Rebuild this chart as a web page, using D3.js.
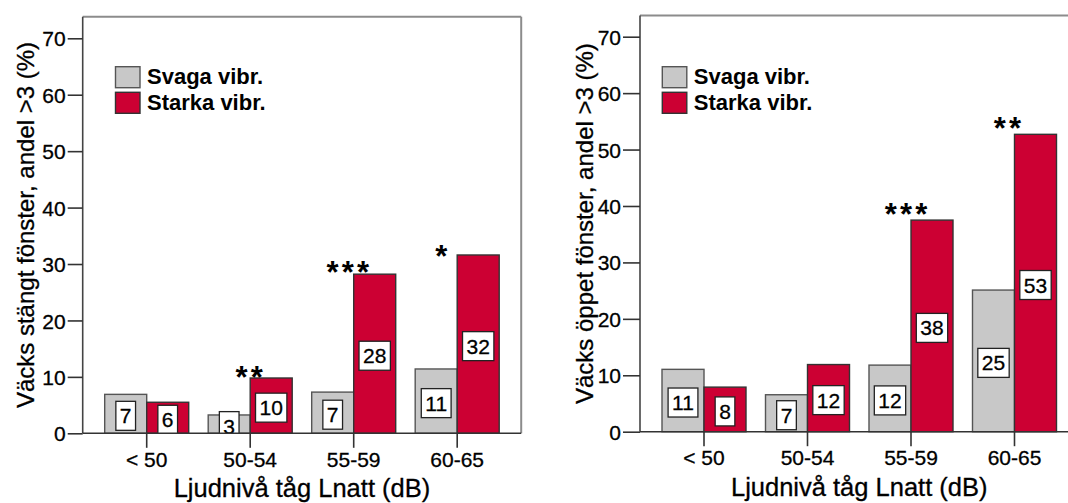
<!DOCTYPE html>
<html><head><meta charset="utf-8">
<script src="https://cdn.jsdelivr.net/npm/d3@7"></script>
<style>body{margin:0;background:#fff}svg{display:block}text{font-family:"Liberation Sans",Arial,sans-serif;fill:#000}.reg{stroke:#000;stroke-width:0.3px}</style>
</head><body><svg id="c" width="1068" height="503"></svg>
<script>
const categories = ["< 50", "50-54", "55-59", "60-65"];
const seriesNames = ["Svaga vibr.", "Starka vibr."];
const yTicks = [0, 10, 20, 30, 40, 50, 60, 70];

const closedSvaga = [6.9, 3.25, 7.3, 11.4];
const closedStarka = [5.5, 9.8, 28.2, 31.6];
const closedSvagaLabels = ["7", "3", "7", "11"];
const closedStarkaLabels = ["6", "10", "28", "32"];
const closedSig = ["", "**", "***", "*"];

const openSvaga = [11.05, 6.55, 11.8, 25.1];
const openStarka = [7.9, 11.9, 37.5, 52.7];
const openSvagaLabels = ["11", "7", "12", "25"];
const openStarkaLabels = ["8", "12", "38", "53"];
const openSig = ["", "", "***", "**"];

const closedTitle = "Väcks stängt fönster, andel >3 (%)";
const openTitle = "Väcks öppet fönster, andel >3 (%)";
const xTitle = "Ljudnivå tåg Lnatt (dB)";

const colors = ["#c8c8c8", "#cc0033"];
const strokes = ["#555", "#333"];

const svg = d3.select("#c");

function drawChart(id, series, labels, sig, yTitle, L) {
  const g = svg.append("g");
  const y = d3.scaleLinear().domain([0, 70]).range([L.y0, L.y70]);
  const x = d3.scaleBand().domain(categories).range([L.left, L.right]).paddingInner(0).paddingOuter(0.1184);
  const xs = d3.scaleBand().domain(seriesNames).range([0, x.bandwidth()]).paddingInner(0).paddingOuter(0.232);

  g.append("clipPath").attr("id", "clip" + id).append("rect")
    .attr("x", L.left).attr("y", L.top).attr("width", L.right - L.left).attr("height", L.y0 - L.top);

  const rows = [];
  categories.forEach((c, i) => {
    seriesNames.forEach((s, j) => rows.push({c, s, j, v: series[j][i], lab: labels[j][i]}));
  });

  // bars
  g.append("g").selectAll("rect").data(rows).join("rect")
    .attr("x", d => x(d.c) + xs(d.s))
    .attr("width", xs.bandwidth())
    .attr("y", d => y(d.v))
    .attr("height", d => y(0) - y(d.v))
    .attr("fill", d => colors[d.j])
    .attr("stroke", d => strokes[d.j])
    .attr("stroke-width", 1.4);

  // value label boxes
  const lg = g.append("g").attr("clip-path", `url(#clip${id})`);
  rows.forEach(d => {
    const cx = x(d.c) + xs(d.s) + xs.bandwidth() / 2;
    const cy = (y(d.v) + y(0)) / 2 + 2;
    const box = lg.append("rect");
    const t = lg.append("text").attr("class", "reg").attr("x", cx).attr("y", cy).attr("dy", "0.36em")
      .attr("text-anchor", "middle").style("font-size", "21px").text(d.lab);
    const w = t.node().getComputedTextLength() + 8;
    box.attr("x", cx - w / 2).attr("y", cy - 14.5).attr("width", w).attr("height", 29)
      .attr("fill", "#fff").attr("stroke", "#222").attr("stroke-width", 1.3);
  });

  // frame
  g.append("line").attr("x1", L.left).attr("x2", L.right).attr("y1", L.top).attr("y2", L.top)
    .attr("stroke", "#8c8c8c").attr("stroke-width", 2);
  g.append("line").attr("x1", L.right).attr("x2", L.right).attr("y1", L.top).attr("y2", L.y0)
    .attr("stroke", "#8c8c8c").attr("stroke-width", 2);
  g.append("line").attr("x1", L.left).attr("x2", L.left).attr("y1", L.top).attr("y2", L.y0)
    .attr("stroke", "#444").attr("stroke-width", 1.6);
  g.append("line").attr("x1", L.left).attr("x2", L.right).attr("y1", L.y0).attr("y2", L.y0)
    .attr("stroke", "#333").attr("stroke-width", 1.6);

  // y axis
  const ya = g.append("g").attr("transform", `translate(${L.left},0)`)
    .call(d3.axisLeft(y).tickValues(yTicks).tickSize(L.tickLen).tickPadding(2));
  ya.select(".domain").remove();
  ya.selectAll("line").attr("stroke", "#333").attr("stroke-width", 1.6);
  ya.selectAll("text").attr("class", "reg").style("font-size", "21px").attr("dy", "0.36em")
    .style("font-family", '"Liberation Sans",Arial,sans-serif').attr("fill", "#000");

  // x axis
  const xa = g.append("g").attr("transform", `translate(0,${L.y0})`)
    .call(d3.axisBottom(x).tickSize(14.5));
  xa.select(".domain").remove();
  xa.selectAll("line").attr("stroke", "#333").attr("stroke-width", 1.6);
  xa.selectAll("text").attr("class", "reg").style("font-size", "21px").attr("y", L.catDy).attr("dy", 0)
    .style("font-family", '"Liberation Sans",Arial,sans-serif').attr("fill", "#000");

  // significance stars
  categories.forEach((c, i) => {
    if (!sig[i]) return;
    const top = y(Math.max(series[0][i], series[1][i]));
    const cy = top - L.sigGap[i];
    g.append("text").attr("x", x(c) + x.bandwidth() / 2 + L.sigDx[i] + 1.6)
      .attr("y", cy + 0.575 * 31).attr("text-anchor", "middle")
      .style("font-size", "31px").style("font-weight", "bold").style("letter-spacing", "3.2px")
      .text(sig[i]);
  });

  // legend
  seriesNames.forEach((s, j) => {
    const yy = L.legY + j * 25.6;
    g.append("rect").attr("x", L.legX).attr("y", yy).attr("width", 24.5).attr("height", 21)
      .attr("fill", colors[j]).attr("stroke", strokes[j]).attr("stroke-width", 1.4);
    g.append("text").attr("x", L.legX + 31.5).attr("y", yy + 17.7)
      .style("font-size", "22px").style("font-weight", "bold").text(s);
  });

  // titles
  g.append("text").attr("class", "reg").attr("transform", `translate(${L.yTitleX},${(L.top + L.y0) / 2}) rotate(-90)`)
    .attr("text-anchor", "middle").style("font-size", "24px").text(yTitle);
  g.append("text").attr("class", "reg").attr("x", (L.left + L.right) / 2).attr("y", L.xTitleY)
    .attr("text-anchor", "middle").style("font-size", "25.5px").text(xTitle);
}

drawChart("a", [closedSvaga, closedStarka], [closedSvagaLabels, closedStarkaLabels], closedSig, closedTitle,
  {left: 82.7, right: 521.2, top: 16.7, y0: 433.3, y70: 38.3, tickLen: 15, catDy: 33.4,
   legX: 115.5, legY: 66.7, yTitleX: 34, xTitleY: 496.5,
   sigDx: [0, -1, -6, -16], sigGap: [0, 8.3, 9.3, 6.3]});

drawChart("b", [openSvaga, openStarka], [openSvagaLabels, openStarkaLabels], openSig, openTitle,
  {left: 640, right: 1078.5, top: 15.5, y0: 431.7, y70: 36.7, tickLen: 17, catDy: 33.3,
   legX: 662.3, legY: 66.7, yTitleX: 593, xTitleY: 496,
   sigDx: [0, 0, -5, -7], sigGap: [0, 0, 12.5, 13.5]});
</script></body></html>
